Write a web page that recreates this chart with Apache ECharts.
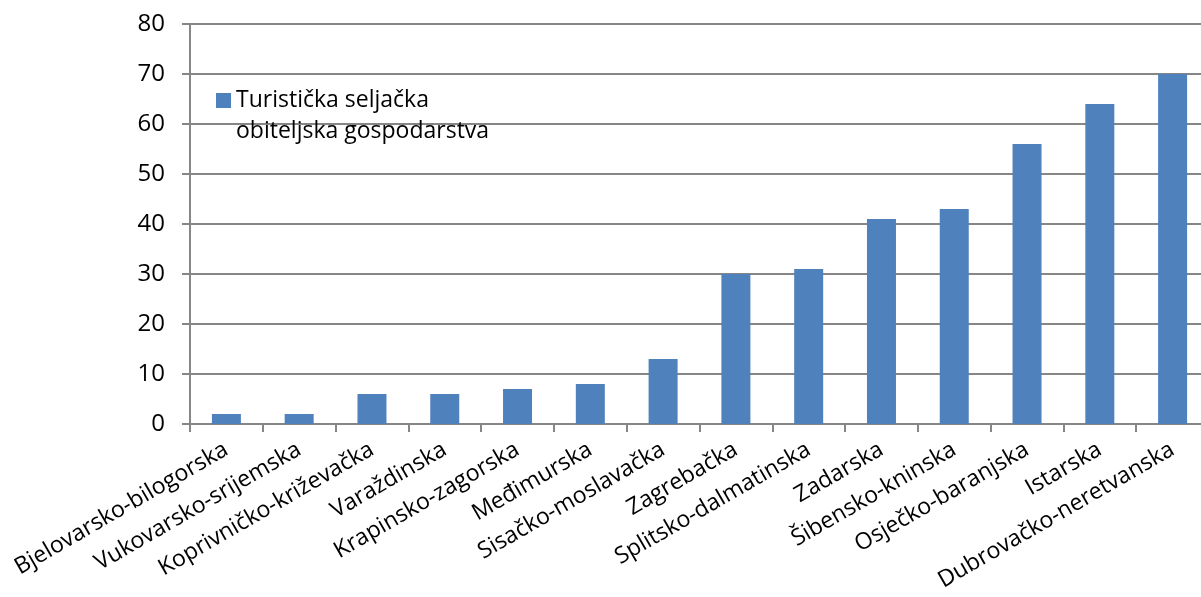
<!DOCTYPE html>
<html>
<head>
<meta charset="utf-8">
<script src="https://cdn.jsdelivr.net/npm/echarts@6/dist/echarts.min.js"></script>
<style>html,body{margin:0;padding:0;background:#fff;overflow:hidden;width:1201px;height:597px}#c{width:1209px;height:597px}</style>
</head>
<body>
<div id="c"></div>
<script>
const categories = ["Bjelovarsko-bilogorska","Vukovarsko-srijemska","Koprivničko-križevačka","Varaždinska","Krapinsko-zagorska","Međimurska","Sisačko-moslavačka","Zagrebačka","Splitsko-dalmatinska","Zadarska","Šibensko-kninska","Osječko-baranjska","Istarska","Dubrovačko-neretvanska"];
const values = [2, 2, 6, 6, 7, 8, 13, 30, 31, 41, 43, 56, 64, 70];
const seriesName = "Turistička seljačka\nobiteljska gospodarstva";

const chart = echarts.init(document.getElementById('c'), null, {renderer: 'canvas'});
const font = '"Open Sans", "Noto Sans", sans-serif';
chart.setOption({
  animation: false,
  textStyle: {fontFamily: font},
  grid: {left: 190, right: 0, top: 24, bottom: 173, containLabel: false},
  legend: {
    left: 216, top: 54, padding: 0,
    itemWidth: 15, itemHeight: 15, icon: 'rect',
    formatter: function (name) { return '\u00a0\n' + name; },
    textStyle: {fontSize: 23, color: '#000', fontFamily: font, lineHeight: 31},
    data: [seriesName]
  },
  xAxis: {
    type: 'category',
    data: categories,
    axisLine: {lineStyle: {color: '#868686', width: 2}},
    axisTick: {show: true, length: 8, lineStyle: {color: '#868686', width: 2}},
    axisLabel: {rotate: 30, fontSize: 23, color: '#000', margin: 24, interval: 0, fontFamily: font}
  },
  yAxis: {
    type: 'value', min: 0, max: 80, interval: 10,
    axisLine: {show: true, lineStyle: {color: '#868686', width: 2}},
    axisTick: {show: true, length: 8, lineStyle: {color: '#868686', width: 2}},
    splitLine: {lineStyle: {color: '#868686', width: 2}},
    axisLabel: {fontSize: 24, color: '#000', margin: 25, fontFamily: font}
  },
  series: [{
    name: seriesName,
    type: 'bar',
    data: values,
    barWidth: 29,
    itemStyle: {color: '#4F81BD'}
  }]
});
</script>
</body>
</html>
